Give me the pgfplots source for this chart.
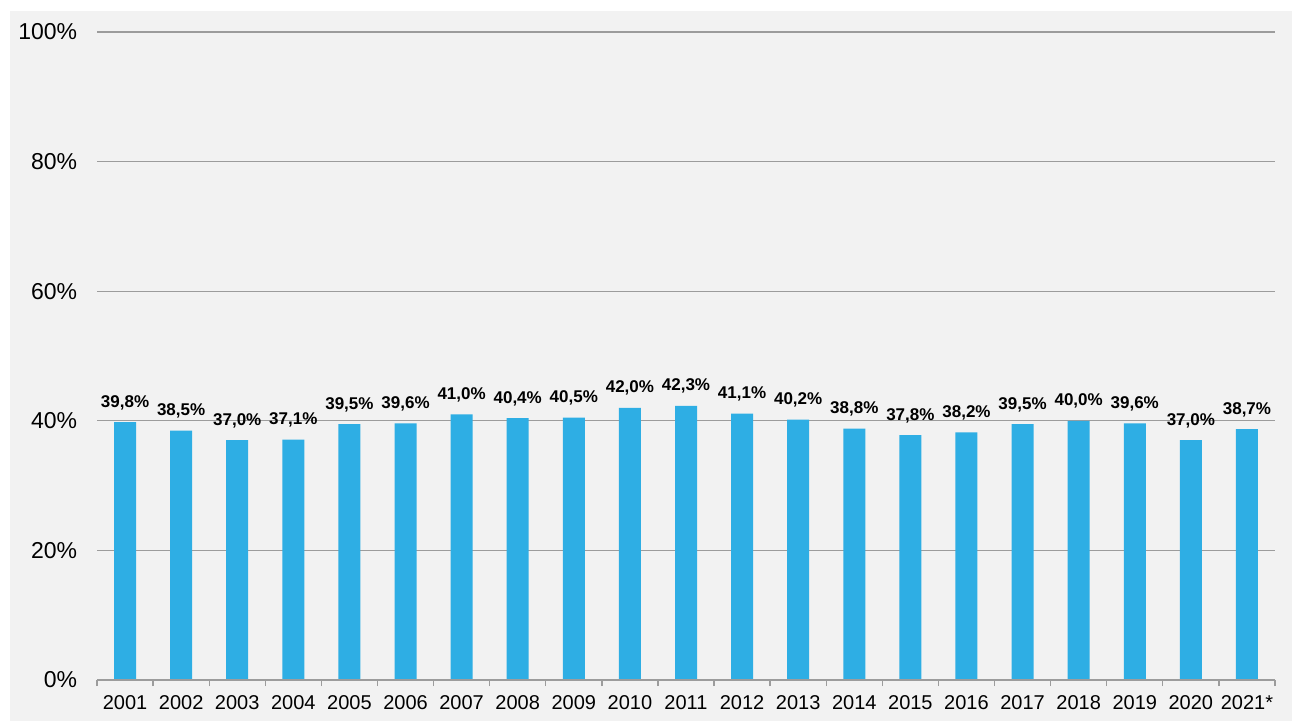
\documentclass[border=0pt]{standalone}
\usepackage{pgfplots}
\pgfplotsset{compat=1.18}
\usepackage{fontspec}
\setmainfont{Liberation Sans}
\definecolor{bg}{HTML}{F2F2F2}
\definecolor{barblue}{HTML}{2EAEE4}
\definecolor{gridgray}{HTML}{9C9C9C}

\begin{document}
\begin{tikzpicture}
  \fill[white] (0pt,0pt) rectangle (1292pt,721pt);
  \fill[bg] (10pt,0pt) rectangle (1292pt,710pt);
  \begin{axis}[
    at={(97pt,41pt)}, anchor=south west,
    scale only axis,
    width=1178pt, height=648pt,
    xmin=-0.5, xmax=20.5,
    ymin=0, ymax=100,
    axis line style={draw=none},
    xtick={0,...,20},
    xticklabels={2001,2002,2003,2004,2005,2006,2007,2008,2009,2010,2011,2012,2013,2014,2015,2016,2017,2018,2019,2020,2021*},
    major x tick style={draw=none},
    minor xtick={-0.5,0.5,...,20.5},
    minor x tick style={gridgray, line width=1.3pt},
    minor tick length=6pt,
    tick align=outside,
    xtick pos=bottom, ytick pos=left,
    x tick label style={font=\fontsize{20}{24}\selectfont, yshift=-8pt},
    ytick={0,20,...,100},
    yticklabels={0\%,20\%,40\%,60\%,80\%,100\%},
    major y tick style={draw=none},
    y tick label style={font=\fontsize{23}{27}\selectfont, xshift=-12pt},
    ymajorgrids,
    grid style={gridgray, line width=1.3pt},
    ybar, bar width=22pt,
    nodes near coords={\pgfmathprintnumber[fixed, fixed zerofill, precision=1, use comma, assume math mode=true]{\pgfplotspointmeta}\%},
    every node near coord/.append style={font=\fontsize{17}{20}\selectfont\bfseries, anchor=base, yshift=15pt},
    clip=false,
  ]
    \addplot[fill=barblue, draw=none] coordinates {
      (0,39.8) (1,38.5) (2,37.0) (3,37.1) (4,39.5) (5,39.6) (6,41.0)
      (7,40.4) (8,40.5) (9,42.0) (10,42.3) (11,41.1) (12,40.2) (13,38.8)
      (14,37.8) (15,38.2) (16,39.5) (17,40.0) (18,39.6) (19,37.0) (20,38.7)
    };
    \draw[gridgray, line width=1.3pt] (axis cs:-0.5,0) -- (axis cs:20.5,0);
  \end{axis}
\end{tikzpicture}
\end{document}
